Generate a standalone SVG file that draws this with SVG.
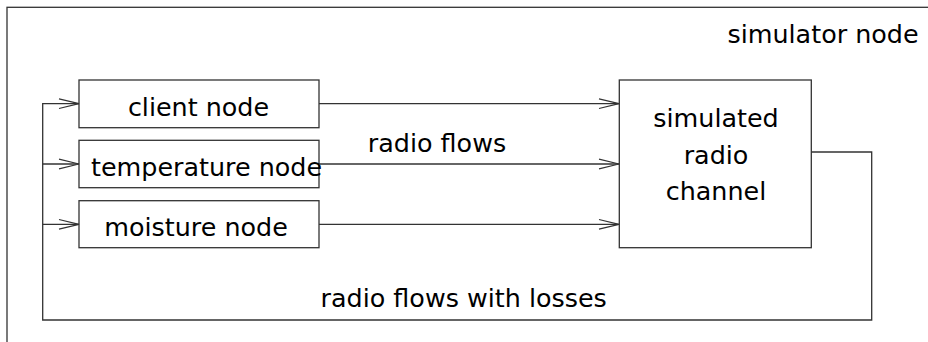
<svg xmlns="http://www.w3.org/2000/svg" width="928" height="342" viewBox="0 0 928 342">
<style>
.box{fill:#fff;stroke:#333;stroke-width:1.3}
.ln{fill:none;stroke:#333;stroke-width:1.3}
text{font-family:"DejaVu Sans",sans-serif;font-size:25.4px;fill:#000;text-anchor:middle}
</style>
<defs>
<marker id="arr" markerUnits="userSpaceOnUse" markerWidth="24" markerHeight="12" viewBox="-22 -6 24 12" refX="0" refY="0" orient="auto" overflow="visible">
<path d="M-20,-4.8 L0,0 L-20,4.8" fill="none" stroke="#333" stroke-width="1.2"/>
</marker>
</defs>
<g id="simulator">
<rect x="7" y="7.3" width="940" height="360" class="ln"/>
<text x="823" y="43">simulator node</text>
</g>
<g id="client">
<rect x="79" y="80" width="240" height="47.7" class="box"/>
<text x="198.5" y="115.7">client node</text>
</g>
<g id="temperature">
<rect x="79" y="140.3" width="240" height="47.4" class="box"/>
<text x="206.5" y="175.7">temperature node</text>
</g>
<g id="moisture">
<rect x="79" y="200.7" width="240" height="47" class="box"/>
<text x="196" y="235.7">moisture node</text>
</g>
<g id="channel">
<rect x="619.3" y="80" width="192" height="167.7" class="box"/>
<text x="716" y="127">simulated</text>
<text x="716" y="164">radio</text>
<text x="716" y="200">channel</text>
</g>
<g id="connectors">
<line x1="319" y1="103.7" x2="619" y2="103.7" class="ln" marker-end="url(#arr)"/>
<line x1="319" y1="164" x2="619" y2="164" class="ln" marker-end="url(#arr)"/>
<line x1="319" y1="224.3" x2="619" y2="224.3" class="ln" marker-end="url(#arr)"/>
<polyline points="811.3,152 871.7,152 871.7,320 42.7,320 42.7,103.7 79,103.7" class="ln" marker-end="url(#arr)"/>
<line x1="42.7" y1="164" x2="79" y2="164" class="ln" marker-end="url(#arr)"/>
<line x1="42.7" y1="224.3" x2="79" y2="224.3" class="ln" marker-end="url(#arr)"/>
<text x="437" y="151.7">radio flows</text>
<text x="463.7" y="306.7">radio flows with losses</text>
</g>
</svg>
